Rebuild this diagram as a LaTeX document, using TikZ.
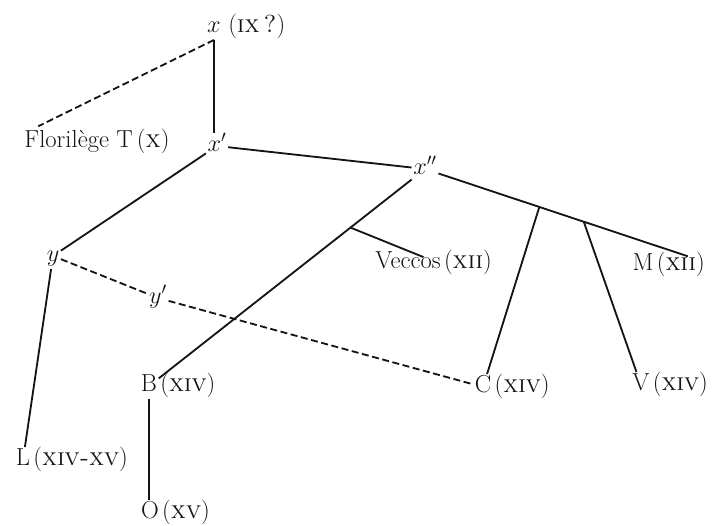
\documentclass[tikz,border=0pt]{standalone}
\usepackage{tikz}
\usetikzlibrary{calc}
\definecolor{ink}{RGB}{20,20,20}
\newcommand{\siecle}[1]{(\textsc{#1})}
\tikzset{
  siglum/.style={inner sep=1pt, text height=12pt, text depth=4pt,
    font=\fontsize{17.5}{21}\selectfont, text=ink},
  datelbl/.style={siglum},
  stemline/.style={line width=1.3pt, color=ink},
  lostline/.style={line width=1.3pt, color=ink, dash pattern=on 5pt off 2.5pt}
}

\begin{document}
\begin{tikzpicture}[x=0.025cm, y=-0.025cm]
  \useasboundingbox (0,0) rectangle (714,525);
  % archetype and the upper copies
  \node[siglum, label={[datelbl, xshift=3pt]right:\siecle{ix\,?}}] (x) at (214,27) {$x$};
  \node[siglum] (flor) at (97,142) {Florilège T\,\siecle{x}};
  \node[siglum] (xp) at (217,146) {$x'$};
  \node[siglum] (xpp) at (425,169) {$x''$};
  \node[siglum] (y) at (53,256) {$y$};
  \node[siglum] (yp) at (158,298) {$y'$};
  % preserved manuscripts
  \node[siglum, label={[datelbl]right:\siecle{xii}}] (vec) at (408,263) {Veccos};
  \node[siglum, label={[datelbl, name=Md]right:\siecle{xii}}] (M) at (643,265) {M};
  \node[siglum, label={[datelbl]right:\siecle{xiv}}] (B) at (149,386) {B};
  \node[siglum, label={[datelbl]right:\siecle{xiv}}] (C) at (483,387) {C};
  \node[siglum, label={[datelbl]right:\siecle{xiv}}] (V) at (641,385) {V};
  \node[siglum, label={[datelbl]right:\siecle{xiv-xv}}] (L) at (23,460) {L};
  \node[siglum, label={[datelbl]right:\siecle{xv}}] (O) at (150,513) {O};

  \draw[stemline] (x.south) -- (x.south |- xp.north);
  \draw[lostline] (x.south) -- ([xshift=11pt,yshift=2pt]flor.north west);
  \draw[stemline] (xp) -- (xpp);
  \draw[stemline] (xp) -- (y);
  \coordinate (mend) at ([xshift=5pt,yshift=-3pt]Md.north);
  \draw[stemline] (xpp) -- (mend);
  \coordinate (jc) at ($(xpp)!0.435!(mend)$);
  \coordinate (jv) at ($(xpp)!0.604!(mend)$);
  \draw[stemline] (jc) -- (C);
  \draw[stemline] (jv) -- (V);
  \draw[stemline] (xpp) -- (B);
  \coordinate (jvec) at ($(xpp)!0.27!(B)$);
  \draw[stemline] (jvec) -- ([xshift=11pt,yshift=-5pt]vec.north);
  \draw[stemline] (y) -- (L);
  \draw[lostline] (y) -- (yp);
  \draw[lostline] (yp) -- (C);
  \draw[stemline] (B.south) -- (B.south |- O.north);
\end{tikzpicture}
\end{document}
